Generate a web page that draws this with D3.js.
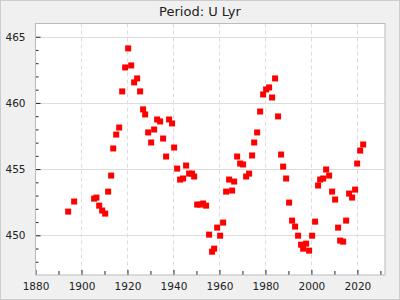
<!DOCTYPE html>
<html lang="en">
<head>
  <meta charset="UTF-8">
  <title>Period: U Lyr</title>
  <style>
    body { margin: 0; background: #f0f0f0; }
    svg { display: block; font-family: "DejaVu Sans", sans-serif; }
  </style>
</head>
<body>
  <svg width="400" height="300"></svg>
  <script src="https://d3js.org/d3.v7.min.js"></script>
  <script>
    const years = [1894.2, 1896.8, 1905.5, 1906.5, 1907.7, 1909.0, 1910.3, 1911.6, 1912.9, 1913.8,
      1915.1, 1916.4, 1917.7, 1919.0, 1920.3, 1921.6, 1922.9, 1924.2, 1925.5, 1926.8,
      1927.7, 1929.0, 1930.3, 1931.6, 1932.9, 1934.2, 1935.5, 1936.8, 1938.1, 1939.4,
      1940.3, 1941.6, 1942.9, 1944.2, 1945.5, 1946.8, 1948.1, 1949.0, 1950.3, 1951.6,
      1952.9, 1954.2, 1955.5, 1956.8, 1957.7, 1959.0, 1960.3, 1961.6, 1962.9, 1964.2,
      1965.5, 1966.4, 1967.7, 1969.0, 1970.3, 1971.6, 1972.9, 1974.2, 1975.1, 1976.4,
      1977.7, 1979.0, 1980.3, 1981.6, 1982.9, 1984.2, 1985.5, 1986.8, 1987.7, 1989.0,
      1990.3, 1991.6, 1992.9, 1994.2, 1995.5, 1996.4, 1997.7, 1999.0, 2000.3, 2001.6,
      2002.9, 2003.8, 2005.1, 2006.4, 2007.7, 2009.0, 2010.3, 2011.6, 2012.5, 2013.8,
      2015.1, 2016.4, 2017.7, 2019.0, 2019.9, 2021.2, 2022.5];
    const periods = [451.79, 452.55, 452.77, 452.85, 452.24, 451.87, 451.64, 453.30, 454.51, 456.56,
      457.61, 458.14, 460.87, 462.68, 464.12, 462.83, 461.55, 461.85, 460.87, 459.51,
      459.13, 457.77, 457.01, 457.99, 458.75, 458.60, 457.31, 455.95, 458.75, 458.45,
      456.63, 455.04, 454.21, 454.29, 455.27, 454.66, 454.66, 454.44, 452.32, 452.32,
      452.40, 452.24, 450.05, 448.76, 448.99, 450.58, 449.97, 450.96, 453.30, 454.21,
      453.38, 454.06, 455.95, 455.42, 455.35, 454.44, 454.66, 456.03, 457.01, 457.77,
      459.35, 460.64, 461.02, 461.17, 460.41, 461.85, 458.98, 456.10, 455.19, 454.29,
      452.47, 451.11, 450.66, 449.97, 449.29, 448.99, 449.37, 448.84, 449.97, 451.03,
      453.76, 454.21, 454.29, 454.97, 454.51, 453.30, 452.70, 450.58, 449.60, 449.52,
      451.11, 453.15, 452.85, 453.45, 455.42, 456.40, 456.86];
    const xTicks = [1880, 1900, 1920, 1940, 1960, 1980, 2000, 2020];
    const yTicks = [450, 455, 460, 465];
    const title = "Period: U Lyr";

    const width = 400, height = 300;
    const margin = { top: 23.5, right: 15, bottom: 25, left: 35.5 };
    const svg = d3.select("svg");

    svg.append("rect")
      .attr("x", 0.5).attr("y", 0.5)
      .attr("width", width - 1).attr("height", height - 1)
      .attr("fill", "#f0f0f0").attr("stroke", "#cccccc");

    const x = d3.scaleLinear().domain([1880, 2032]).range([margin.left, width - margin.right]);
    const y = d3.scaleLinear().domain([447, 466]).range([height - margin.bottom, margin.top]);

    svg.append("rect")
      .attr("x", margin.left).attr("y", margin.top)
      .attr("width", width - margin.left - margin.right)
      .attr("height", height - margin.top - margin.bottom)
      .attr("fill", "white");

    // grid
    svg.append("g").selectAll("line")
      .data(yTicks).enter().append("line")
      .attr("x1", margin.left).attr("x2", width - margin.right)
      .attr("y1", d => Math.round(y(d)) + 0.5).attr("y2", d => Math.round(y(d)) + 0.5)
      .attr("stroke", "#dddddd");
    svg.append("g").selectAll("line")
      .data(xTicks.slice(1)).enter().append("line")
      .attr("x1", d => Math.round(x(d)) + 0.5).attr("x2", d => Math.round(x(d)) + 0.5)
      .attr("y1", margin.top).attr("y2", height - margin.bottom)
      .attr("stroke", "#dddddd").attr("stroke-dasharray", "4,3");

    // axes with inward ticks
    const xMinor = d3.range(1890, 2032, 20);
    const xAxis = svg.append("g")
      .attr("transform", `translate(0,${height - margin.bottom})`)
      .call(d3.axisBottom(x).tickValues(xTicks).tickSize(-5).tickPadding(8).tickFormat(d3.format("d")));
    svg.append("g")
      .attr("transform", `translate(0,${height - margin.bottom})`)
      .call(d3.axisBottom(x).tickValues(xMinor).tickSize(-4).tickFormat(""))
      .select(".domain").remove();

    const yMinor = d3.range(448, 466).filter(v => v % 5 !== 0);
    const yAxis = svg.append("g")
      .attr("transform", `translate(${margin.left},0)`)
      .call(d3.axisLeft(y).tickValues(yTicks).tickSize(-5).tickPadding(10));
    svg.append("g")
      .attr("transform", `translate(${margin.left},0)`)
      .call(d3.axisLeft(y).tickValues(yMinor).tickSize(-3).tickFormat(""))
      .select(".domain").remove();

    svg.selectAll(".tick text").attr("font-size", 10.5).attr("fill", "#222").attr("font-family", "DejaVu Sans, sans-serif");
    svg.selectAll(".tick line").attr("stroke", "#222");
    xAxis.select(".domain").remove();
    yAxis.select(".domain").remove();

    // frame
    svg.append("rect")
      .attr("x", margin.left).attr("y", margin.top)
      .attr("width", width - margin.left - margin.right)
      .attr("height", height - margin.top - margin.bottom)
      .attr("fill", "none").attr("stroke", "#bbbbbb");

    // points
    svg.append("g").selectAll("rect")
      .data(years.map((d, i) => [d, periods[i]])).enter().append("rect")
      .attr("x", d => x(d[0]) - 3).attr("y", d => y(d[1]) - 3)
      .attr("width", 6).attr("height", 6)
      .attr("fill", "#ff0000");

    svg.append("text")
      .attr("x", width / 2).attr("y", 16)
      .attr("text-anchor", "middle")
      .attr("font-size", 13).attr("fill", "#222")
      .text(title);
  </script>
</body>
</html>
